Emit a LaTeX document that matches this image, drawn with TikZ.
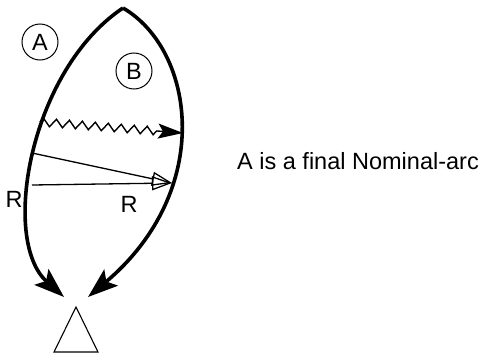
\documentclass[tikz,border=0pt]{standalone}
\usepackage{fontspec}
\setmainfont{Liberation Sans}
\usetikzlibrary{arrows.meta,positioning,decorations.pathmorphing}

\begin{document}
\begin{tikzpicture}[x=1pt,y=-1pt,>=Stealth,font=\fontsize{23.5}{28}\selectfont,
    arc/.style={line width=3.6pt,-{Stealth[length=30pt,width=21pt,inset=6pt]}},
    ray/.style={line width=1.3pt,-{Triangle[open,length=20pt,width=14pt,line width=1.3pt]}},
    wave/.style={line width=1.4pt,decorate,decoration={zigzag,segment length=13pt,amplitude=4pt,post length=26pt},-{Stealth[length=25pt,width=15pt,inset=5pt]}},
    tag/.style={circle,draw,line width=1pt,minimum size=36pt,inner sep=0pt}]
    \useasboundingbox (0,0) rectangle (485,353);
    \coordinate (top) at (123,8);
    \coordinate (tipA) at (64,297);\coordinate (tipB) at (88,297);
    \coordinate (zs) at (40,122);\coordinate (ze) at (183,133);
    \coordinate (r1) at (32,153);\coordinate (r2) at (32,185);\coordinate (hit) at (172,183);
    \node[tag] (a) at (40,42) {A};
    \node[tag] (b) at (134,71) {B};
    \node (ra) at (14,199) {R};
    \node (rb) at (129,204) {R};
    \node[anchor=west,inner sep=0pt] (note) at (237,161) {A is a final Nominal-arc};
    \draw[arc] (top) .. controls (30,70) and (0,240) .. (tipA);
    \draw[arc] (top) .. controls (195,50) and (215,190) .. (tipB);
    \draw[wave] (zs) -- (ze);
    \draw[ray] (r1) -- (hit);\draw[ray] (r2) -- (hit);
    \draw[line width=1.1pt] (76,307) -- (98,352) -- (54,352) -- cycle;
  \end{tikzpicture}
\end{document}
